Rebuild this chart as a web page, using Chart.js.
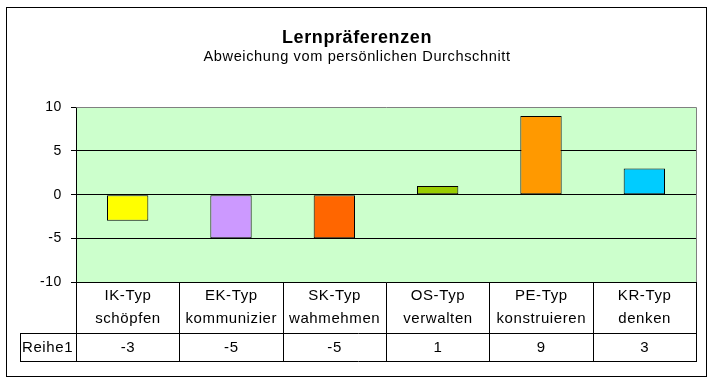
<!DOCTYPE html>
<html><head><meta charset="utf-8">
<style>html,body{margin:0;padding:0;background:#fff;}#wrap{width:714px;height:382px;}</style>
<script src="https://cdn.jsdelivr.net/npm/chart.js@4/dist/chart.umd.min.js"></script>
</head><body><div id="wrap"><canvas id="c" width="714" height="382"></canvas></div>
<script>
const titleText = "Lernpräferenzen";
const subtitleText = "Abweichung vom persönlichen Durchschnitt";
const categories = [["IK-Typ","schöpfen"],["EK-Typ","kommunizier"],["SK-Typ","wahmehmen"],["OS-Typ","verwalten"],["PE-Typ","konstruieren"],["KR-Typ","denken"]];
const seriesName = "Reihe1";
const values = [-3, -5, -5, 1, 9, 3];
const barColors = ["#FFFF00","#CC99FF","#FF6600","#99CC00","#FF9900","#00CCFF"];
const yTicks = [-10, -5, 0, 5, 10];

const FONT = "'Liberation Sans', Arial, sans-serif";
const SPACING = '0.6px';

const framePlugin = {
  id: 'frame',
  beforeDraw(chart) {
    const ctx = chart.ctx, a = chart.chartArea;
    ctx.save();
    ctx.fillStyle = '#fff';
    ctx.fillRect(0, 0, chart.width, chart.height);
    ctx.strokeStyle = '#000'; ctx.lineWidth = 1;
    ctx.strokeRect(6.5, 7.5, 700, 369);
    ctx.fillStyle = '#CCFFCC';
    ctx.fillRect(a.left, a.top, a.right - a.left, a.bottom - a.top);
    ctx.restore();
    ctx.letterSpacing = SPACING;
  },
  afterDatasetsDraw(chart) {
    const ctx = chart.ctx, a = chart.chartArea, xs = chart.scales.x;
    const n = categories.length;
    const cw = (a.right - a.left) / n;
    const L = Math.round(a.left) + 0.5, R = Math.round(a.right) + 0.5, T = Math.round(a.top) + 0.5;
    const y0 = Math.round(a.bottom) + 0.5, y1 = y0 + 51, y2 = y1 + 28;
    ctx.save();
    // plot border: top/right gray
    ctx.strokeStyle = '#808080'; ctx.lineWidth = 1;
    ctx.beginPath();
    ctx.moveTo(L, T); ctx.lineTo(R, T); ctx.lineTo(R, y0);
    ctx.stroke();
    // left axis black
    ctx.strokeStyle = '#000';
    ctx.beginPath();
    ctx.moveTo(L, T); ctx.lineTo(L, y0);
    ctx.stroke();
    // data table
    ctx.beginPath();
    ctx.moveTo(L - 0.5, y0); ctx.lineTo(R + 0.5, y0);
    ctx.moveTo(20, y1); ctx.lineTo(R + 0.5, y1);
    ctx.moveTo(20, y2); ctx.lineTo(R + 0.5, y2);
    ctx.moveTo(20.5, y1); ctx.lineTo(20.5, y2);
    for (let i = 0; i <= n; i++) {
      const x = Math.round(a.left + i * cw) + 0.5;
      ctx.moveTo(x, y0); ctx.lineTo(x, y2);
    }
    ctx.stroke();
    ctx.fillStyle = '#000';
    ctx.letterSpacing = SPACING;
    ctx.font = "15px " + FONT;
    ctx.textAlign = 'center'; ctx.textBaseline = 'middle';
    for (let i = 0; i < n; i++) {
      const cx = xs.getPixelForValue(i) + 0.3;
      ctx.fillText(categories[i][0], cx, y0 + 13);
      ctx.fillText(categories[i][1], cx, y0 + 36);
      ctx.fillText(String(values[i]), cx, y1 + 14);
    }
    ctx.textAlign = 'left';
    ctx.fillText(seriesName, 22, y1 + 14);
    ctx.restore();
  }
};

new Chart(document.getElementById('c'), {
  type: 'bar',
  data: {
    labels: categories,
    datasets: [{
      label: seriesName,
      data: values,
      backgroundColor: barColors,
      borderColor: '#000',
      borderWidth: 1,
      borderSkipped: false,
      barPercentage: 0.4,
      categoryPercentage: 1.0
    }]
  },
  options: {
    responsive: false,
    animation: false,
    layout: { padding: { left: 18, right: 18, top: 0, bottom: 100 } },
    plugins: {
      legend: { display: false },
      tooltip: { enabled: false },
      title: {
        display: true, text: titleText, color: '#000',
        font: { family: FONT, size: 18, weight: 'bold', lineHeight: 1.1 },
        padding: { top: 28, bottom: 0 }
      },
      subtitle: {
        display: true, text: subtitleText, color: '#000',
        font: { family: FONT, size: 14.6, weight: 'normal', lineHeight: 1.2 },
        padding: { top: 0, bottom: 42 }
      }
    },
    scales: {
      x: { display: false, offset: true },
      y: {
        min: -10, max: 10,
        afterFit(s) { s.width = 58; },
        afterBuildTicks(s) { s.ticks = yTicks.map(v => ({ value: v })); },
        ticks: { stepSize: 5, color: '#000', padding: 9, font: { family: FONT, size: 14 } },
        border: { display: false },
        grid: {
          color: ctx => (ctx.tick && (ctx.tick.value === 10 || ctx.tick.value === -10)) ? 'rgba(0,0,0,0)' : '#000',
          tickColor: '#000', tickLength: 5, lineWidth: 1, drawTicks: true
        }
      }
    }
  },
  plugins: [framePlugin]
});
</script></body></html>
